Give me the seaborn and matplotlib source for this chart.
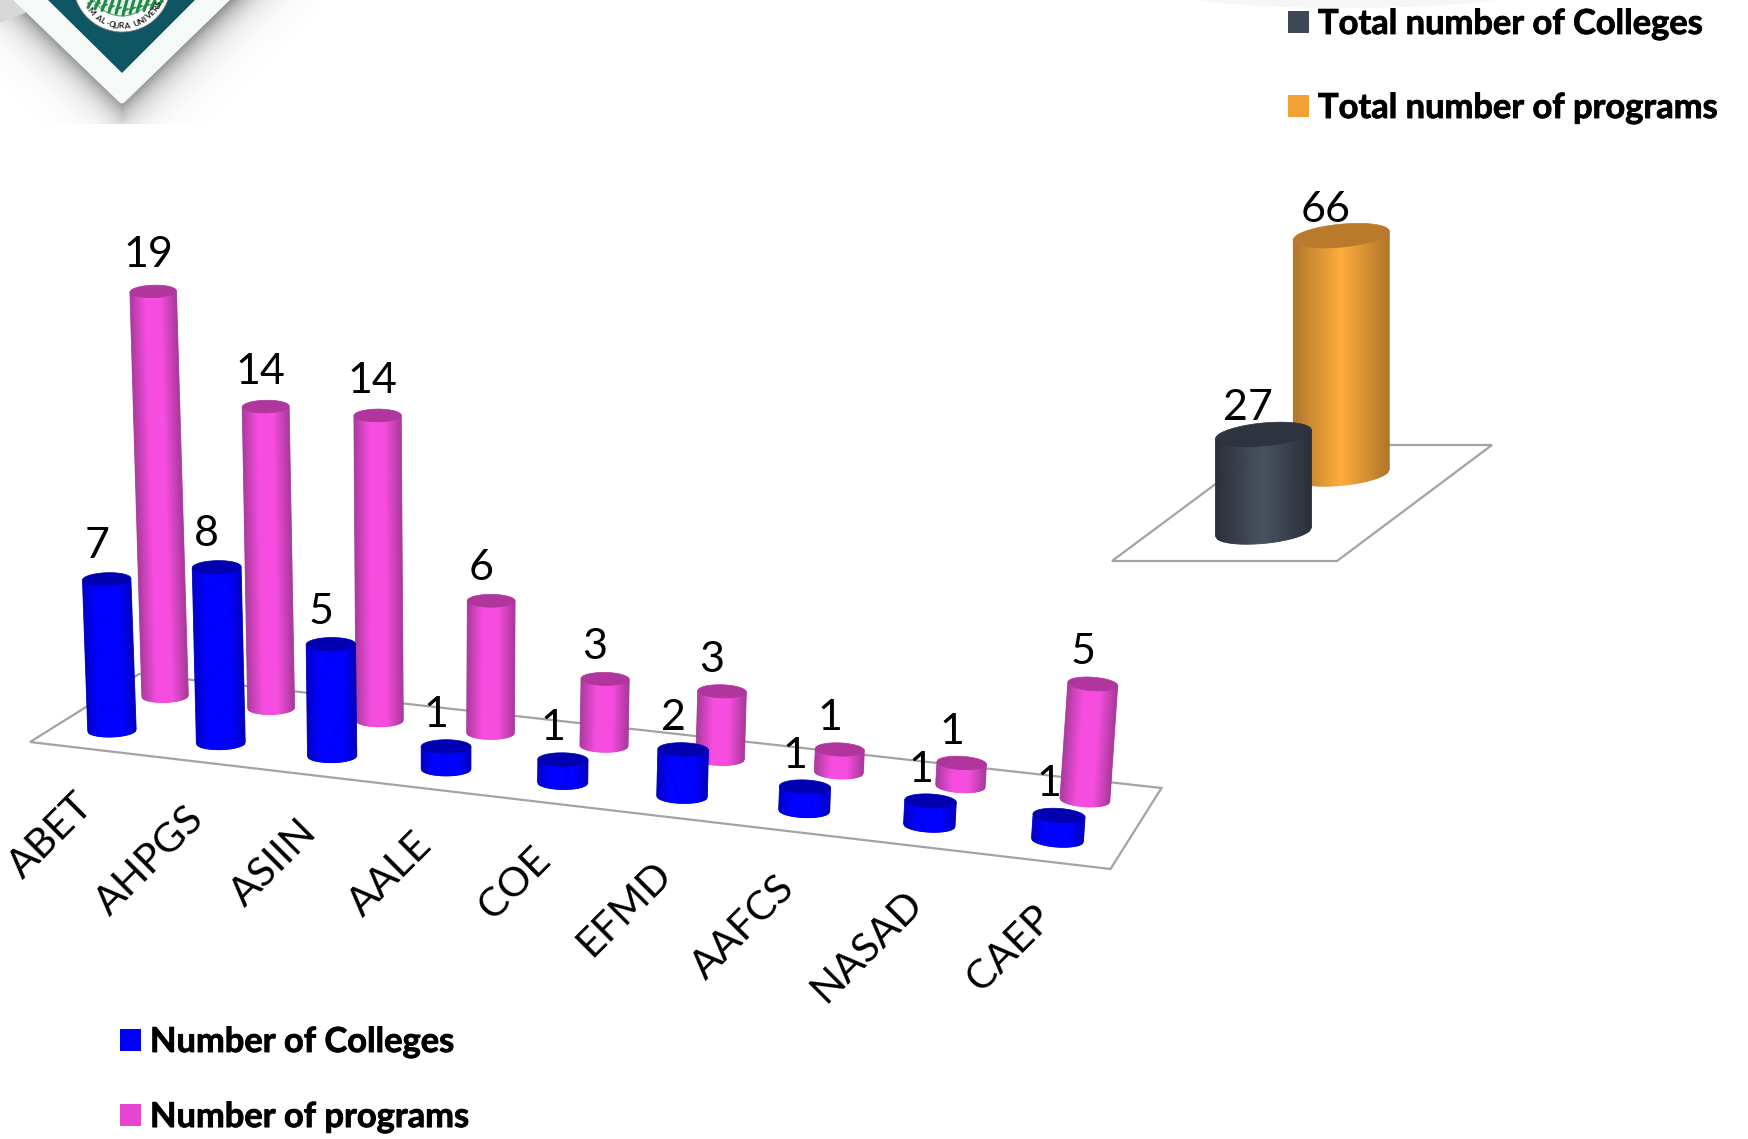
import numpy as np
import pandas as pd
import seaborn as sns
import matplotlib
matplotlib.use('Agg')
import matplotlib.pyplot as plt
import matplotlib.patheffects as pe
from matplotlib.collections import PolyCollection
from matplotlib.patches import Patch, Polygon, Circle, Ellipse

agencies = ['ABET', 'AHPGS', 'ASIIN', 'AALE', 'COE', 'EFMD', 'AAFCS', 'NASAD', 'CAEP']
num_colleges = [7, 8, 5, 1, 1, 2, 1, 1, 1]
num_programs = [19, 14, 14, 6, 3, 3, 1, 1, 5]
total_colleges = [27]
total_programs = [66]

series_left = ['Number of Colleges', 'Number of programs']
series_right = ['Total number of Colleges', 'Total number of programs']

# mid colour, side colour, top colour
BLUE = ('#0000ff', '#0000c4', '#0000b0')
PINK = ('#f64cdf', '#ab3a9d', '#b0369e')
DARK = ('#48525f', '#2a303a', '#2e343f')
ORANGE = ('#ffad3b', '#b0762a', '#b97b2b')

sns.set_theme(style='white')
plt.rcParams['font.family'] = ['Lato', 'DejaVu Sans']

fig = plt.figure(figsize=(17.48, 11.39), dpi=100, facecolor='white')
ax = fig.add_axes([0, 0, 1, 1])
ax.set_xlim(0, 1748)
ax.set_ylim(1139, 0)
ax.axis('off')

# seaborn does the categories, dodge and heights; the flat bars stay hidden
# and get redrawn below as cylinders standing on the tilted floors
ax_left = fig.add_axes([0, 0, 1, 1])
ax_right = fig.add_axes([0, 0, 1, 1])

df_left = pd.DataFrame({
    'agency': agencies * 2,
    'series': [series_left[0]] * 9 + [series_left[1]] * 9,
    'count': num_colleges + num_programs,
})
df_right = pd.DataFrame({
    'agency': ['All'] * 2,
    'series': series_right,
    'count': total_colleges + total_programs,
})
sns.barplot(data=df_left, x='agency', y='count', hue='series', ax=ax_left,
            palette=[BLUE[0], PINK[0]], legend=False)
sns.barplot(data=df_right, x='agency', y='count', hue='series', ax=ax_right,
            palette=[DARK[0], ORANGE[0]], legend=False)
ax_left.set_visible(False)
ax_right.set_visible(False)


def floor_map(corners):
    # homography from (u, v) in the unit square to picture pixels
    # corners: front left, front right, back right, back left
    src = [(0, 0), (1, 0), (1, 1), (0, 1)]
    A, b = [], []
    for (u, v), (x, y) in zip(src, corners):
        A.append([u, v, 1, 0, 0, 0, -u * x, -v * x])
        A.append([0, 0, 0, u, v, 1, -u * y, -v * y])
        b += [x, y]
    h = np.linalg.solve(np.array(A, float), np.array(b, float))

    def project(u, v):
        w = h[6] * u + h[7] * v + 1
        return (h[0] * u + h[1] * v + h[2]) / w, (h[3] * u + h[4] * v + h[5]) / w
    return project


def cylinder(bx, by, height, half_w, b, lean, tilt, colours, zorder, gradient):
    mid, side, top = colours
    tx, ty = bx + height * lean, by - height
    n = 48
    t = np.linspace(-1, 1, n + 1)
    x = t * half_w
    low_y = by + np.sqrt(1 - t ** 2) * b + x * tilt
    up_y = ty + x * tilt
    low_x = bx + x
    up_x = tx + x
    cols = sns.blend_palette(gradient(mid, side), n_colors=n)
    quads = [[(low_x[k], low_y[k]), (low_x[k + 1], low_y[k + 1]),
              (up_x[k + 1], up_y[k + 1]), (up_x[k], up_y[k])] for k in range(n)]
    ax.add_collection(PolyCollection(quads, facecolors=cols, edgecolors=cols,
                                     linewidths=0.6, zorder=zorder))
    a = np.linspace(0, 2 * np.pi, 80)
    ex = np.cos(a) * half_w
    ey = np.sin(a) * b + ex * tilt
    ax.add_patch(Polygon(np.c_[tx + ex, ty + ey], closed=True, fc=top, ec=top,
                         lw=0.5, zorder=zorder + 0.1))
    return tx, ty


def soft_edges(mid, side):
    return [side, mid, mid, mid, side]


def pink_shade(mid, side):
    return [side, mid, mid, side]


def round_shade(mid, side):
    return [side, mid, side]


FLOOR_COL = '#a3a3a3'

# left floor
left_corners = [(30, 742), (1110.5, 869), (1161.5, 788), (139, 674)]
ax.add_patch(Polygon(left_corners, closed=True, fc='white', ec=FLOOR_COL, lw=1.6,
                     joinstyle='miter', zorder=1))
left_floor = floor_map(left_corners)
depth = [0.25, 0.75]


def cat_u(i):
    # small warp, the original's spacing grows a little faster than the floor
    u = (i + 0.5) / len(agencies)
    return u - 0.028 * u * (1 - u) - 0.001 * u


for j, container in enumerate(ax_left.containers):
    colours = [BLUE, PINK][j]
    z = [4, 3][j]
    for bar in container:
        i = int(round(bar.get_x() + bar.get_width() / 2))
        value = bar.get_height()
        bx, by = left_floor(cat_u(i), depth[j])
        unit = [21.6 + 0.38 * i, 21.3 + 0.24 * i][j]
        half_w = (24.2 + 0.22 * i) * (1 - 0.08 * (depth[j] - 0.25))
        lean = (bx - 443) * 1.06e-4
        grad = soft_edges if j == 0 else pink_shade
        tx, ty = cylinder(bx, by, value * unit, half_w, half_w * 0.27, lean, lean,
                          colours, z + i * 0.01, grad)
        # college labels sit under the pink bars, as CAEP shows
        ax.text(tx - (10 if value < 10 else 5), ty - 31 - value * 0.27, f'{value:.0f}',
                fontsize=31, color='black', ha='center', va='center',
                zorder=2.5 if j == 0 else 6)

for i, name in enumerate(agencies):
    fx, fy = left_floor(cat_u(i), 0)
    ax.text(fx + 3, fy + 51, name, fontsize=29.5, rotation=45, color='black',
            ha='right', va='center', rotation_mode='anchor', zorder=6)

# right floor
right_corners = [(1112, 561), (1337, 561), (1492, 445), (1268, 445)]
ax.add_patch(Polygon(right_corners, closed=True, fc='white', ec=FLOOR_COL, lw=1.6,
                     joinstyle='miter', zorder=1))
right_floor = floor_map(right_corners)
for j, container in enumerate(ax_right.containers):
    colours = [DARK, ORANGE][j]
    bar = container[0]
    value = bar.get_height()
    bx, by = right_floor(0.5, depth[j])
    tx, ty = cylinder(bx, by, value * 3.61, 48, 11.5, 0, -0.09, colours,
                      [4, 3][j], round_shade)
    ax.text(tx - 16, ty - 26, f'{value:.0f}', fontsize=31, color='black',
            ha='center', va='center', zorder=6)

# legends
left_handles = [Patch(fc=BLUE[0], ec='none'), Patch(fc='#e645d0', ec='none')]
right_handles = [Patch(fc='#3f4856', ec='none'), Patch(fc='#f2a135', ec='none')]
for handles, labels, pos, gap in [(left_handles, series_left, (120, 1026), 1.25),
                                  (right_handles, series_right, (1288, 8), 1.51)]:
    leg = fig.legend(handles, labels, loc='upper left', bbox_to_anchor=pos,
                     bbox_transform=ax.transData, frameon=False, borderpad=0, borderaxespad=0,
                     handlelength=0.61, handleheight=0.61, handletextpad=0.26, labelspacing=gap,
                     labelcolor='black', prop={'size': 24.8, 'weight': 'bold', 'family': 'Lato'})
    for txt in leg.get_texts():
        txt.set_path_effects([pe.withStroke(linewidth=0.6, foreground='black')])

# faint shape cut by the top edge above the right legend
ax.add_patch(Ellipse((1346, -10), 362, 36, fc='#f6f6f6', ec='none', zorder=0.5))

# logo corner
yy, xx = np.mgrid[0:125, 0:320]
dist = ((yy - 103) + np.abs(xx - 122) * 0.945) / 1.376
shade = np.clip(0.42 * np.exp(-np.maximum(dist, 0) / 15), 0, 1)
shade[yy > 123] = 0
rgba = np.zeros((125, 320, 4))
rgba[..., 3] = shade
ax.imshow(rgba, extent=(0, 320, 125, 0), aspect='auto', zorder=7)
ax.set_xlim(0, 1748)
ax.set_ylim(1139, 0)
ax.add_patch(Polygon([(0, 0), (30, 0), (25, 13), (0, 23)], fc='#d8d8d8', ec='none', zorder=7.1))
ax.add_patch(Polygon([(13, -5), (122, 100), (230, -5)], fc='#f5faf8', ec='#f5faf8', lw=5,
                     joinstyle='round', zorder=7.2))
ax.add_patch(Polygon([(48, 0), (122, 73), (195, 0)], fc='#0f5663', ec='none', zorder=7.3))
ax.add_patch(Circle((122, -17), 49, fc='white', ec='#777777', lw=0.6, zorder=7.4))
ax.add_patch(Circle((122, -17), 33, fc='#e6f3ea', ec='#5aa977', lw=0.8, zorder=7.5))
for k in range(11):
    sx = 88 + k * 7
    end = 15 - abs(k - 5) * 1.5
    ax.plot([sx + 4, sx], [0, end], color='#23894a', lw=2.2, solid_capstyle='round', zorder=7.6)
    ax.plot([sx, sx + 5], [end - 4, end - 6], color='#23894a', lw=1.3, zorder=7.6)
seal_text = 'M AL-QURA UNIVERS'
for k, ch in enumerate(seal_text):
    ang = np.radians(-50 + 7 * k)
    ax.text(122 + 41 * np.sin(ang), -15 + 41 * np.cos(ang), ch, fontsize=6, weight='bold',
            color='#222222', rotation=np.degrees(ang), ha='center', va='center',
            zorder=7.7, clip_on=True)

fig.savefig('out.png', dpi=100)
